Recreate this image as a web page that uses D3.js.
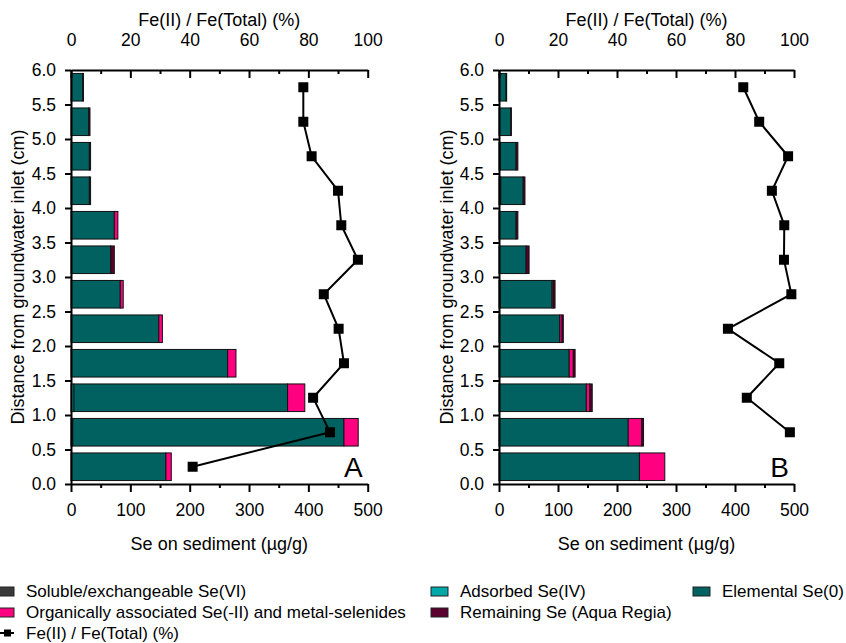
<!DOCTYPE html>
<html>
<head>
<meta charset="utf-8">
<script src="https://cdn.jsdelivr.net/npm/d3@7"></script>
<style>
  html, body { margin: 0; padding: 0; background: #fff; }
  svg { display: block; font-family: "Liberation Sans", Arial, Helvetica, sans-serif; }
</style>
</head>
<body>
<svg id="chart" width="846" height="643"></svg>
<script>
// Depth of each sediment slice (cm from groundwater inlet), bottom to top
const depth = [0.25, 0.75, 1.25, 1.75, 2.25, 2.75, 3.25, 3.75, 4.25, 4.75, 5.25, 5.75];

// Se fractions on sediment (µg/g), column A
const solubleA   = [0, 0, 0, 0, 0, 0, 0, 0, 0, 0, 0, 0];
const adsorbedA  = [0, 3, 5, 0, 0, 0, 0, 0, 0, 0, 0, 0];
const elementalA = [160, 457, 360, 264, 148, 83, 67, 73, 31, 31, 30, 20];
const organicA   = [9, 24, 29, 14, 6, 5, 0, 6, 0, 0, 0, 0];
const remainingA = [0, 0, 0, 0, 0, 0, 6, 0, 2, 2, 2, 1];
// Fe(II)/Fe(Total) (%), column A
const feA = [41, 87.3, 81.6, 92, 90.2, 85.2, 96.7, 91.1, 90, 81.1, 78.3, 78.3];

// Se fractions on sediment (µg/g), column B
const solubleB   = [0, 0, 0, 0, 0, 2, 0, 0, 0, 2, 0, 0];
const adsorbedB  = [0, 0, 0, 0, 0, 0, 0, 0, 3, 0, 0, 0];
const elementalB = [238, 219, 148, 119, 103, 88, 46, 29, 38, 27, 20, 12];
const organicB   = [43, 23, 6, 7, 4, 2, 0, 0, 0, 0, 0, 0];
const remainingB = [0, 3, 4, 3, 2, 3, 5, 3, 3, 3, 1, 1];
// Fe(II)/Fe(Total) (%), column B (no value for the first slice)
const feB = [null, 98.6, 84, 95, 77.6, 99.1, 96.6, 96.7, 92.5, 98, 88.2, 82.8];

const seTicks = [0, 100, 200, 300, 400, 500];
const feTicks = [0, 20, 40, 60, 80, 100];
const depthTicks = [0, 0.5, 1, 1.5, 2, 2.5, 3, 3.5, 4, 4.5, 5, 5.5, 6];

const fractionKeys = ["soluble", "adsorbed", "elemental", "organic", "remaining"];
const fractionNames = {
  soluble: "Soluble/exchangeable Se(VI)",
  adsorbed: "Adsorbed Se(IV)",
  elemental: "Elemental Se(0)",
  organic: "Organically associated Se(-II) and metal-selenides",
  remaining: "Remaining Se (Aqua Regia)"
};
const fractionColor = {
  soluble: "#3a3a3a",
  adsorbed: "#00a8a8",
  elemental: "#006260",
  organic: "#ff0080",
  remaining: "#5a0030"
};

const svg = d3.select("#chart");
const FS = 17.5;

const y = d3.scaleLinear().domain([0, 6]).range([484, 70]);

function drawPanel(cfg) {
  const x = d3.scaleLinear().domain([0, 500]).range([cfg.x0, cfg.x1]);
  const xFe = d3.scaleLinear().domain([0, 100]).range([cfg.x0, cfg.x1]);
  const g = svg.append("g");

  // stacked bars
  const rows = depth.map((d, i) => ({
    depth: d,
    soluble: cfg.soluble[i], adsorbed: cfg.adsorbed[i], elemental: cfg.elemental[i],
    organic: cfg.organic[i], remaining: cfg.remaining[i]
  }));
  const series = d3.stack().keys(fractionKeys)(rows);
  const half = 0.2;
  series.forEach(s => {
    g.append("g")
      .attr("fill", fractionColor[s.key])
      .attr("stroke", "#111")
      .attr("stroke-width", 1)
      .selectAll("rect")
      .data(s.filter(d => d[1] - d[0] > 0))
      .join("rect")
      .attr("x", d => x(d[0]))
      .attr("width", d => x(d[1]) - x(d[0]))
      .attr("y", d => y(d.data.depth + half))
      .attr("height", d => y(d.data.depth - half) - y(d.data.depth + half));
  });

  // bottom axis: Se on sediment
  const bottom = g.append("g").attr("transform", `translate(0,${y(0)})`);
  bottom.call(d3.axisBottom(x).tickValues(d3.range(50, 500, 100)).tickSize(4).tickFormat(""))
    .call(a => a.select(".domain").remove());
  bottom.append("g").call(d3.axisBottom(x).tickValues(seTicks).tickSizeInner(8).tickSizeOuter(0).tickPadding(12))
    .call(a => a.selectAll("text").attr("font-size", FS).attr("fill", "#000").attr("font-family", null));
  bottom.selectAll("line, path").attr("stroke", "#000").attr("stroke-width", 2);

  // top axis: Fe(II)/Fe(Total), ticks pointing inward
  const top = g.append("g").attr("transform", `translate(0,${y(6)})`);
  top.call(d3.axisTop(xFe).tickValues(d3.range(10, 100, 20)).tickSize(-4).tickFormat(""))
    .call(a => a.select(".domain").remove());
  top.append("g").call(d3.axisTop(xFe).tickValues(feTicks).tickSizeInner(-8).tickSizeOuter(0).tickPadding(24))
    .call(a => a.selectAll("text").attr("font-size", FS).attr("fill", "#000").attr("font-family", null));
  top.selectAll("line, path").attr("stroke", "#000").attr("stroke-width", 2);

  // left axis: distance
  const left = g.append("g").attr("transform", `translate(${cfg.x0},0)`);
  left.call(d3.axisLeft(y).tickValues(depthTicks).tickFormat(d3.format(".1f"))
      .tickSizeInner(6).tickSizeOuter(0).tickPadding(9))
    .call(a => a.selectAll("text").attr("font-size", FS).attr("fill", "#000").attr("font-family", null));
  left.selectAll("line, path").attr("stroke", "#000").attr("stroke-width", 2);

  // axis titles
  g.append("text").attr("x", (cfg.x0 + cfg.x1) / 2).attr("y", 26)
    .attr("text-anchor", "middle").attr("font-size", 18).text("Fe(II) / Fe(Total) (%)");
  g.append("text").attr("x", (cfg.x0 + cfg.x1) / 2).attr("y", 550)
    .attr("text-anchor", "middle").attr("font-size", 18).text("Se on sediment (\u00b5g/g)");
  g.append("text")
    .attr("transform", `translate(${cfg.titleX},${(y(0) + y(6)) / 2}) rotate(-90)`)
    .attr("text-anchor", "middle").attr("font-size", 18)
    .text("Distance from groundwater inlet (cm)");

  // Fe(II)/Fe(Total) profile
  const pts = depth.map((d, i) => ({ depth: d, fe: cfg.fe[i] })).filter(p => p.fe != null);
  g.append("path")
    .datum(pts)
    .attr("fill", "none").attr("stroke", "#000").attr("stroke-width", 2)
    .attr("d", d3.line().x(p => xFe(p.fe)).y(p => y(p.depth)));
  const m = 10;
  g.append("g").selectAll("rect").data(pts).join("rect")
    .attr("x", p => xFe(p.fe) - m / 2).attr("y", p => y(p.depth) - m / 2)
    .attr("width", m).attr("height", m).attr("fill", "#000");

  // panel letter
  g.append("text").attr("x", cfg.x1 - 5).attr("y", 477)
    .attr("text-anchor", "end").attr("font-size", 28).text(cfg.letter);
}

drawPanel({
  x0: 71, x1: 367.7, titleX: 24, letter: "A",
  soluble: solubleA, adsorbed: adsorbedA, elemental: elementalA,
  organic: organicA, remaining: remainingA, fe: feA
});
drawPanel({
  x0: 499, x1: 794, titleX: 453, letter: "B",
  soluble: solubleB, adsorbed: adsorbedB, elemental: elementalB,
  organic: organicB, remaining: remainingB, fe: feB
});

// legend
const legendItems = [
  { key: "soluble", x: -3, y: 597 },
  { key: "adsorbed", x: 431, y: 597 },
  { key: "elemental", x: 693, y: 597 },
  { key: "organic", x: -3, y: 618 },
  { key: "remaining", x: 431, y: 618 }
];
const legend = svg.append("g").attr("font-size", 17);
legendItems.forEach(it => {
  legend.append("rect").attr("x", it.x).attr("y", it.y - 10).attr("width", 17).attr("height", 9)
    .attr("fill", fractionColor[it.key]).attr("stroke", "#222").attr("stroke-width", 1);
  legend.append("text").attr("x", it.x + 29).attr("y", it.y).text(fractionNames[it.key]);
});
legend.append("line").attr("x1", 0).attr("x2", 14).attr("y1", 633).attr("y2", 633)
  .attr("stroke", "#000").attr("stroke-width", 2);
legend.append("rect").attr("x", 4).attr("y", 629.5).attr("width", 7).attr("height", 7).attr("fill", "#000");
legend.append("text").attr("x", 26).attr("y", 639).text("Fe(II) / Fe(Total) (%)");
</script>
</body>
</html>
